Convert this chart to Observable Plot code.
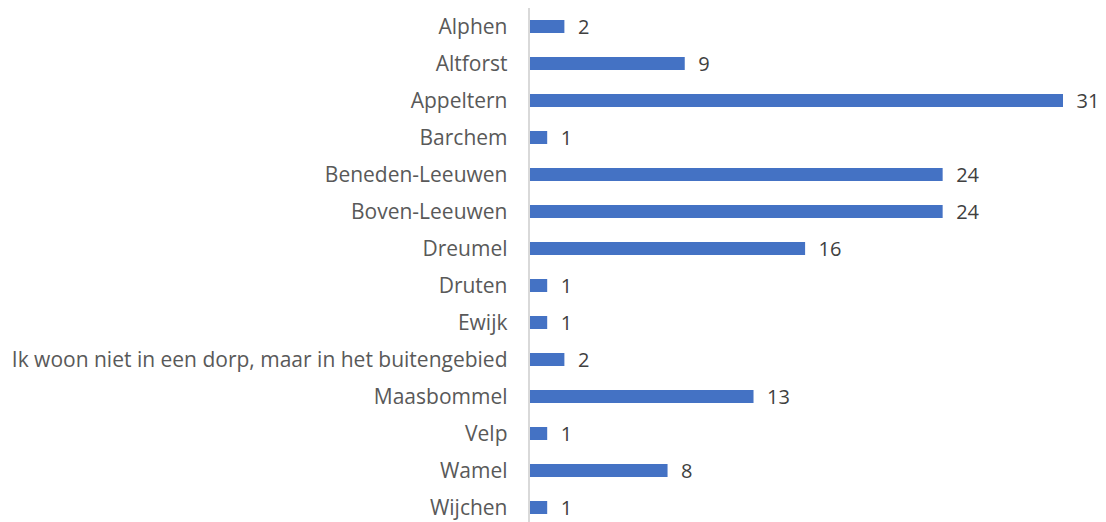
<!DOCTYPE html>
<html><head><meta charset="utf-8">
<script src="https://cdn.jsdelivr.net/npm/d3@7"></script>
<script src="https://cdn.jsdelivr.net/npm/@observablehq/plot@0.6"></script>
<style>body{margin:0;background:#fff;} svg{display:block;}</style>
</head><body><div id="chart"></div>
<script>
const categories = ["Alphen","Altforst","Appeltern","Barchem","Beneden-Leeuwen","Boven-Leeuwen","Dreumel","Druten","Ewijk","Ik woon niet in een dorp, maar in het buitengebied","Maasbommel","Velp","Wamel","Wijchen"];
const values = [2,9,31,1,24,24,16,1,1,2,13,1,8,1];
const data = categories.map((c,i)=>({cat:c, v:values[i]}));
const font = "'Open Sans', sans-serif";
const chart = Plot.plot({
  width:1106, height:522,
  marginLeft:528, marginRight:43, marginTop:8, marginBottom:0,
  style:{fontFamily:font, background:"#fff"},
  x:{domain:[0,31], range:[530,1063], axis:null},
  y:{domain:categories, range:[7.5,525.5], paddingInner:0.65, paddingOuter:0.325, axis:null},
  marks:[
    Plot.ruleX([0],{x:()=>0, dx:-1.5, stroke:"#d9d9d9", strokeWidth:2}),
    Plot.barX(data,{x:"v", y:"cat", fill:"#4472c4"}),
    Plot.text(data,{x:0, y:"cat", text:"cat", textAnchor:"end", dx:-23, fill:"#595959", fontSize:21}),
    Plot.text(data,{x:"v", y:"cat", text:d=>String(d.v), textAnchor:"start", dx:13, dy:1, fill:"#404040", fontSize:20})
  ]
});
document.getElementById("chart").appendChild(chart);
</script></body></html>
